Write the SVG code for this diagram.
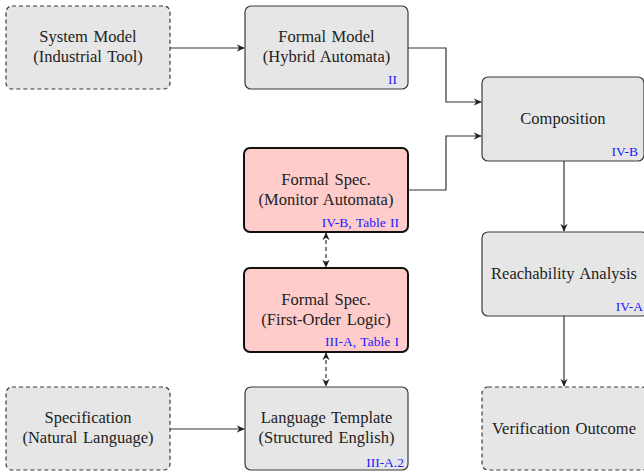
<svg xmlns="http://www.w3.org/2000/svg" width="644" height="472" viewBox="0 0 644 472">
<defs>
<marker id="ah" viewBox="0 0 10 10" refX="9" refY="5" markerWidth="8" markerHeight="8" markerUnits="userSpaceOnUse" orient="auto-start-reverse">
<path d="M0,0.5 L10,5 L0,9.5 L3,5 Z" fill="#222"/>
</marker>
</defs>
<style>
.box{fill:#e6e6e6;stroke:#3a3a3a;stroke-width:1.2}
.dash{stroke-dasharray:4,3}
.red{fill:#ffcccc;stroke:#111;stroke-width:2}
.t{font-family:"Liberation Serif","Times New Roman",serif;font-size:16.5px;word-spacing:1.5px;fill:#222;text-anchor:middle}
.lb{font-family:"Liberation Serif","Times New Roman",serif;font-size:13.5px;word-spacing:1px;fill:#2020ff;text-anchor:end}
.c{fill:none;stroke:#333;stroke-width:1.2}
.cd{fill:none;stroke:#333;stroke-width:1.2;stroke-dasharray:4,3}
</style>
<rect width="644" height="472" fill="#fff"/>
<g id="system-model">
<rect class="box dash" x="6" y="6" width="164" height="83" rx="6"/>
<text class="t" x="88" y="42">System Model</text>
<text class="t" x="88" y="62">(Industrial Tool)</text>
</g>
<g id="formal-model">
<rect class="box" x="245" y="6" width="163" height="83" rx="6"/>
<text class="t" x="326.5" y="42">Formal Model</text>
<text class="t" x="326.5" y="62">(Hybrid Automata)</text>
<text class="lb" x="397" y="84">II</text>
</g>
<g id="composition">
<rect class="box" x="482" y="77" width="162" height="84" rx="6"/>
<text class="t" x="563" y="124">Composition</text>
<text class="lb" x="638" y="156">IV-B</text>
</g>
<g id="monitor-automata">
<rect class="red" x="244" y="148" width="164" height="84" rx="6"/>
<text class="t" x="326" y="185">Formal Spec.</text>
<text class="t" x="326" y="205">(Monitor Automata)</text>
<text class="lb" x="399" y="227">IV-B, Table II</text>
</g>
<g id="first-order-logic">
<rect class="red" x="244" y="268" width="164" height="84" rx="6"/>
<text class="t" x="326" y="305">Formal Spec.</text>
<text class="t" x="326" y="325">(First-Order Logic)</text>
<text class="lb" x="399" y="346">III-A, Table I</text>
</g>
<g id="reachability">
<rect class="box" x="482" y="232" width="166" height="84" rx="6"/>
<text class="t" x="564" y="279">Reachability Analysis</text>
<text class="lb" x="643" y="311">IV-A</text>
</g>
<g id="specification">
<rect class="box dash" x="6" y="387" width="164" height="83" rx="6"/>
<text class="t" x="88" y="423">Specification</text>
<text class="t" x="88" y="443">(Natural Language)</text>
</g>
<g id="language-template">
<rect class="box" x="245" y="387" width="163" height="83" rx="6"/>
<text class="t" x="326.5" y="423">Language Template</text>
<text class="t" x="326.5" y="443">(Structured English)</text>
<text class="lb" x="404" y="467">III-A.2</text>
</g>
<g id="verification-outcome">
<rect class="box dash" x="482" y="387" width="166" height="83" rx="6"/>
<text class="t" x="564" y="434">Verification Outcome</text>
</g>
<g id="connectors">
<path class="c" d="M170,48 H244" marker-end="url(#ah)"/>
<path class="c" d="M408,48 H446 V102 H481" marker-end="url(#ah)"/>
<path class="c" d="M408,190 H446 V136 H481" marker-end="url(#ah)"/>
<path class="c" d="M564,161 V231" marker-end="url(#ah)"/>
<path class="c" d="M564,316 V386" marker-end="url(#ah)"/>
<path class="c" d="M170,429 H244" marker-end="url(#ah)"/>
<path class="cd" d="M326,233 V267" marker-start="url(#ah)" marker-end="url(#ah)"/>
<path class="cd" d="M326,353 V386" marker-start="url(#ah)" marker-end="url(#ah)"/>
</g>
</svg>
